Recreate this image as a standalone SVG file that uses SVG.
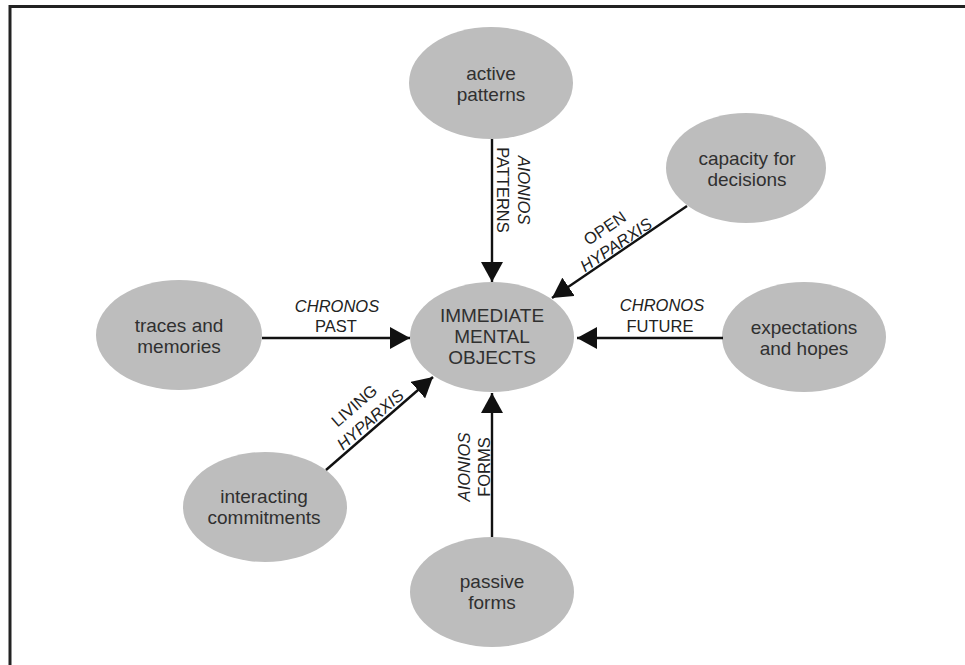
<svg xmlns="http://www.w3.org/2000/svg" width="965" height="665" viewBox="0 0 965 665">
<style>
.node ellipse{fill:#bdbdbd;}
.nt{font-family:"Liberation Sans",Arial,sans-serif;font-size:19px;fill:#303030;text-anchor:middle;}
.lb{font-family:"Liberation Sans",Arial,sans-serif;font-size:16.5px;fill:#222;text-anchor:middle;}
.it{font-style:italic;}
.conn line{stroke:#111;stroke-width:2.4;marker-end:url(#ah);}
</style>
<defs>
<marker id="ah" markerUnits="userSpaceOnUse" markerWidth="20" markerHeight="22" refX="20" refY="11" orient="auto">
<path d="M0,0 L20,11 L0,22 z" fill="#111"/>
</marker>
</defs>
<rect width="965" height="665" fill="#fff"/>
<path d="M10,665 V6.5 H965" fill="none" stroke="#222" stroke-width="3"/>

<g id="n-active" class="node">
<ellipse cx="491" cy="83" rx="82" ry="56"/>
<text class="nt" x="491" y="80">active</text>
<text class="nt" x="491" y="101">patterns</text>
</g>
<g id="n-capacity" class="node">
<ellipse cx="746" cy="168" rx="80" ry="55"/>
<text class="nt" x="747" y="165">capacity for</text>
<text class="nt" x="747" y="186">decisions</text>
</g>
<g id="n-center" class="node">
<ellipse cx="492" cy="337" rx="82" ry="55"/>
<text class="nt" x="492" y="322">IMMEDIATE</text>
<text class="nt" x="492" y="343">MENTAL</text>
<text class="nt" x="492" y="364">OBJECTS</text>
</g>
<g id="n-traces" class="node">
<ellipse cx="179" cy="335" rx="83" ry="55"/>
<text class="nt" x="179" y="332">traces and</text>
<text class="nt" x="179" y="353">memories</text>
</g>
<g id="n-expect" class="node">
<ellipse cx="804" cy="337" rx="82" ry="55"/>
<text class="nt" x="804" y="334">expectations</text>
<text class="nt" x="804" y="355">and hopes</text>
</g>
<g id="n-interact" class="node">
<ellipse cx="265" cy="507" rx="82" ry="55"/>
<text class="nt" x="264" y="503">interacting</text>
<text class="nt" x="264" y="524">commitments</text>
</g>
<g id="n-passive" class="node">
<ellipse cx="492" cy="592" rx="82" ry="55"/>
<text class="nt" x="492" y="588">passive</text>
<text class="nt" x="492" y="609">forms</text>
</g>

<g id="connectors" class="conn">
<line x1="492" y1="139" x2="492" y2="282"/>
<line x1="687" y1="206" x2="552" y2="298"/>
<line x1="262" y1="338" x2="410" y2="338"/>
<line x1="723" y1="338" x2="577" y2="338"/>
<line x1="326" y1="470" x2="433" y2="377"/>
<line x1="492" y1="537" x2="492" y2="393"/>
</g>

<g id="labels">
<g transform="translate(518,190) rotate(90)">
<text class="lb it" x="0" y="0">AIONIOS</text>
<text class="lb" x="0" y="21">PATTERNS</text>
</g>
<g transform="translate(608,233) rotate(-34)">
<text class="lb" x="0" y="0">OPEN</text>
<text class="lb it" x="0" y="20">HYPARXIS</text>
</g>
<text class="lb it" x="337" y="312">CHRONOS</text>
<text class="lb" x="336" y="332">PAST</text>
<text class="lb it" x="662" y="311">CHRONOS</text>
<text class="lb" x="660" y="332">FUTURE</text>
<g transform="translate(358,410) rotate(-41)">
<text class="lb" x="0" y="0">LIVING</text>
<text class="lb it" x="3" y="21">HYPARXIS</text>
</g>
<g transform="translate(470,467) rotate(-90)">
<text class="lb it" x="0" y="0">AIONIOS</text>
<text class="lb" x="0" y="20">FORMS</text>
</g>
</g>
</svg>
